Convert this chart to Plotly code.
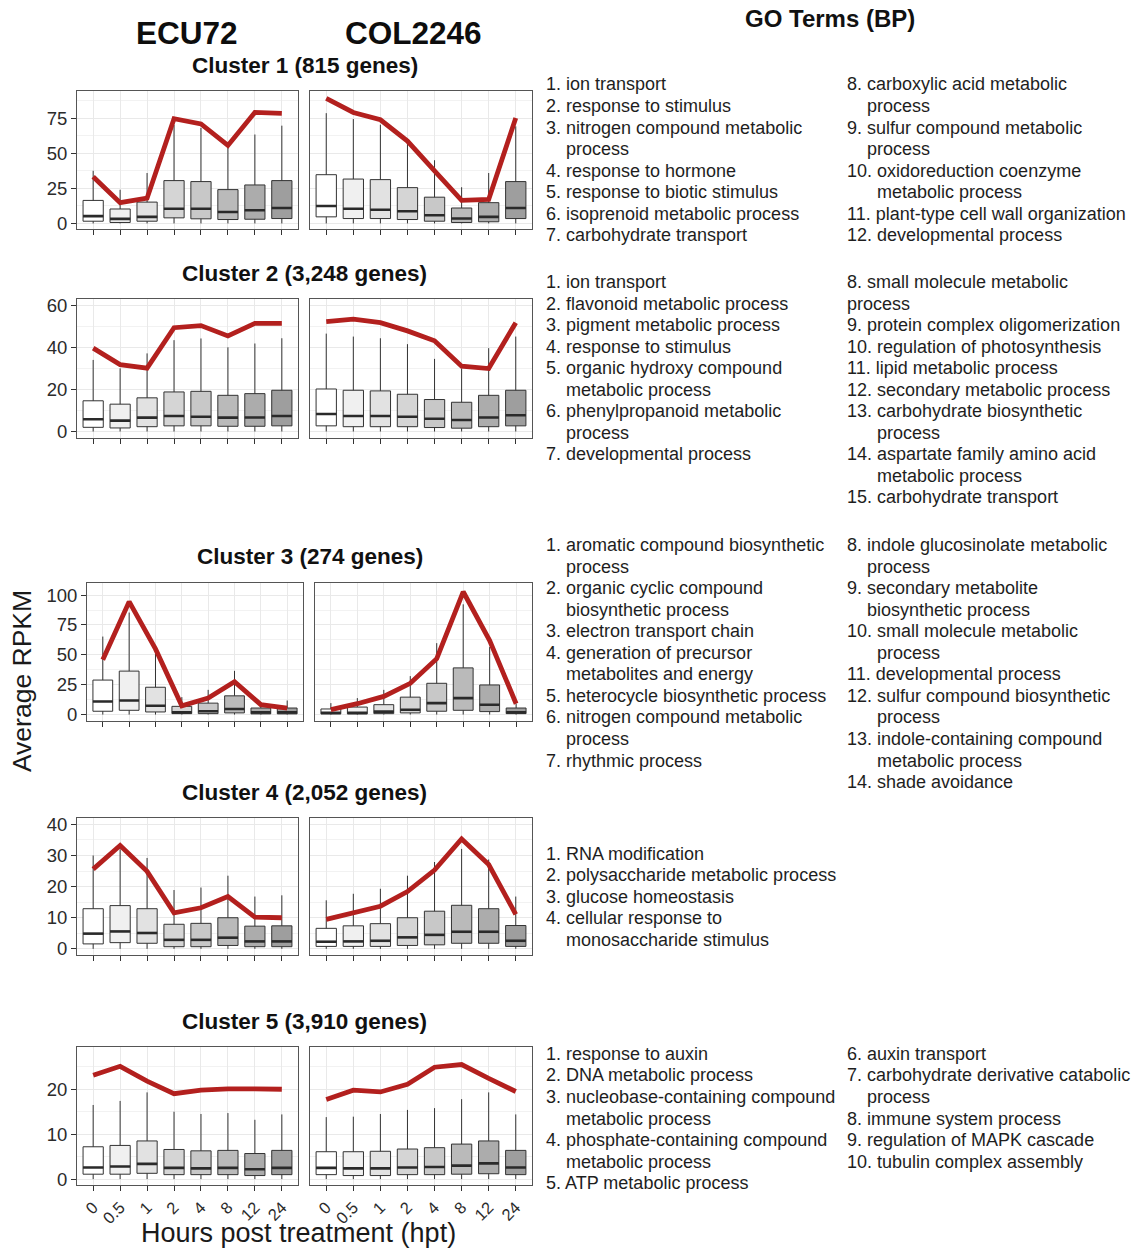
import plotly.graph_objects as go

W, H = 1137, 1251
FONT = "Liberation Sans, Arial, Helvetica, sans-serif"

# ---------------------------------------------------------------- data
HOURS = ["0", "0.5", "1", "2", "4", "8", "12", "24"]
GENOTYPES = ["ECU72", "COL2246"]
CLUSTER_TITLES = [
    "Cluster 1 (815 genes)",
    "Cluster 2 (3,248 genes)",
    "Cluster 3 (274 genes)",
    "Cluster 4 (2,052 genes)",
    "Cluster 5 (3,910 genes)",
]

# Cluster 1
C1_ECU_MEAN = [33.3, 14.8, 18.0, 74.5, 70.8, 55.5, 79.0, 78.3]
C1_ECU_Q1 = [1.6, 0.7, 1.6, 4.0, 3.3, 2.8, 3.0, 3.5]
C1_ECU_MED = [5.2, 3.3, 4.7, 10.5, 10.5, 8.2, 9.4, 11.0]
C1_ECU_Q3 = [16.4, 10.3, 15.2, 30.5, 29.8, 24.1, 27.4, 30.5]
C1_ECU_HI = [37.5, 24.0, 35.9, 70.0, 68.0, 56.0, 63.3, 69.6]
C1_COL_MEAN = [89.0, 79.0, 73.8, 58.6, 37.5, 16.4, 17.1, 75.0]
C1_COL_Q1 = [4.7, 3.5, 3.5, 2.8, 1.6, 0.7, 1.2, 3.5]
C1_COL_MED = [12.4, 10.5, 9.8, 8.7, 5.9, 3.5, 4.7, 11.0]
C1_COL_Q3 = [34.7, 31.6, 31.2, 25.5, 18.7, 11.0, 14.8, 29.8]
C1_COL_HI = [78.5, 74.3, 70.3, 60.2, 45.0, 25.8, 35.9, 69.1]

# Cluster 2
C2_ECU_MEAN = [39.6, 31.8, 30.1, 49.3, 50.3, 45.4, 51.4, 51.4]
C2_ECU_Q1 = [2.0, 1.7, 2.3, 2.7, 2.7, 2.5, 2.5, 2.7]
C2_ECU_MED = [5.8, 5.2, 6.6, 7.4, 7.0, 6.6, 6.7, 7.4]
C2_ECU_Q3 = [14.6, 13.0, 16.0, 18.8, 19.1, 17.2, 18.0, 19.6]
C2_ECU_HI = [34.0, 30.0, 37.1, 43.4, 44.2, 40.0, 41.8, 44.3]
C2_COL_MEAN = [52.2, 53.4, 51.7, 47.8, 43.1, 31.0, 29.9, 51.7]
C2_COL_Q1 = [2.7, 2.3, 2.3, 2.3, 1.9, 1.6, 2.3, 2.7]
C2_COL_MED = [8.3, 7.4, 7.4, 7.0, 6.1, 5.5, 6.7, 7.7]
C2_COL_Q3 = [20.2, 19.6, 19.3, 17.7, 15.2, 13.9, 17.2, 19.6]
C2_COL_HI = [46.5, 45.1, 44.3, 41.5, 34.5, 30.0, 39.6, 45.1]

# Cluster 3
C3_ECU_MEAN = [46.0, 94.5, 55.0, 7.4, 13.8, 27.5, 8.3, 5.5]
C3_ECU_Q1 = [2.8, 3.6, 2.2, 0.8, 0.8, 1.4, 0.6, 0.6]
C3_ECU_MED = [11.0, 11.8, 7.4, 1.9, 2.8, 4.7, 1.9, 1.9]
C3_ECU_Q3 = [28.9, 36.4, 22.9, 6.9, 9.6, 15.7, 5.5, 5.5]
C3_ECU_HI = [65.3, 85.4, 51.0, 14.6, 20.7, 36.6, 9.0, 11.8]
C3_COL_MEAN = [4.1, 9.1, 15.2, 26.2, 46.8, 102.8, 62.0, 9.1]
C3_COL_Q1 = [0.6, 0.6, 0.8, 1.4, 2.8, 3.6, 2.5, 0.8]
C3_COL_MED = [1.4, 1.4, 2.5, 4.1, 9.6, 13.8, 8.3, 1.9]
C3_COL_Q3 = [4.7, 6.3, 8.3, 14.6, 26.2, 39.1, 24.8, 5.5]
C3_COL_HI = [9.6, 13.8, 20.7, 32.2, 59.8, 92.3, 56.5, 9.0]

# Cluster 4
C4_ECU_MEAN = [25.6, 33.2, 24.9, 11.6, 13.2, 16.8, 10.2, 10.0]
C4_ECU_Q1 = [1.6, 2.0, 1.8, 0.7, 0.7, 1.1, 0.7, 0.7]
C4_ECU_MED = [4.9, 5.6, 5.1, 2.9, 2.9, 3.6, 2.4, 2.4]
C4_ECU_Q3 = [12.9, 13.9, 12.9, 7.9, 8.2, 10.0, 7.3, 7.4]
C4_ECU_HI = [30.0, 32.0, 29.2, 18.9, 19.7, 23.5, 16.8, 17.2]
C4_COL_MEAN = [9.5, 11.6, 13.7, 18.4, 25.3, 35.3, 27.1, 11.1]
C4_COL_Q1 = [0.8, 0.8, 0.8, 1.1, 1.3, 1.8, 1.8, 0.8]
C4_COL_MED = [2.3, 2.4, 2.6, 3.7, 4.5, 5.5, 5.5, 2.6]
C4_COL_Q3 = [6.6, 7.4, 8.1, 10.0, 12.1, 14.0, 12.9, 7.5]
C4_COL_HI = [15.6, 17.7, 19.3, 23.5, 27.9, 32.1, 28.7, 16.8]

# Cluster 5
C5_ECU_MEAN = [23.1, 25.1, 21.8, 19.0, 19.8, 20.1, 20.1, 20.0]
C5_ECU_Q1 = [1.1, 1.1, 1.3, 1.0, 1.0, 1.0, 0.8, 1.0]
C5_ECU_MED = [2.6, 2.8, 3.4, 2.5, 2.4, 2.5, 2.2, 2.5]
C5_ECU_Q3 = [7.2, 7.5, 8.5, 6.6, 6.3, 6.4, 5.7, 6.4]
C5_ECU_HI = [16.5, 17.4, 19.3, 15.0, 14.5, 14.7, 13.2, 14.4]
C5_COL_MEAN = [17.7, 19.8, 19.4, 21.1, 24.9, 25.5, 22.4, 19.5]
C5_COL_Q1 = [1.0, 0.8, 0.8, 1.0, 1.0, 1.1, 1.2, 1.0]
C5_COL_MED = [2.5, 2.4, 2.4, 2.6, 2.7, 3.0, 3.5, 2.6]
C5_COL_Q3 = [6.1, 6.1, 6.2, 6.7, 7.0, 7.8, 8.5, 6.4]
C5_COL_HI = [13.8, 13.9, 14.5, 15.4, 15.8, 17.8, 19.3, 14.4]

# GO term lists (first line of each item carries its number)
GO_C1_A = [["1. ion transport"], ["2. response to stimulus"],
           ["3. nitrogen compound metabolic", "process"],
           ["4. response to hormone"], ["5. response to biotic stimulus"],
           ["6. isoprenoid metabolic process"], ["7. carbohydrate transport"]]
GO_C1_B = [["8. carboxylic acid metabolic", "process"],
           ["9. sulfur compound metabolic", "process"],
           ["10. oxidoreduction coenzyme", "metabolic process"],
           ["11. plant-type cell wall organization"],
           ["12. developmental process"]]
GO_C2_A = [["1. ion transport"], ["2. flavonoid metabolic process"],
           ["3. pigment metabolic process"], ["4. response to stimulus"],
           ["5. organic hydroxy compound", "metabolic process"],
           ["6. phenylpropanoid metabolic", "process"],
           ["7. developmental process"]]
GO_C2_B = [["8. small molecule metabolic", "process"],
           ["9. protein complex oligomerization"],
           ["10. regulation of photosynthesis"],
           ["11. lipid metabolic process"],
           ["12. secondary metabolic process"],
           ["13. carbohydrate biosynthetic", "process"],
           ["14. aspartate family amino acid", "metabolic process"],
           ["15. carbohydrate transport"]]
GO_C3_A = [["1. aromatic compound biosynthetic", "process"],
           ["2. organic cyclic compound", "biosynthetic process"],
           ["3. electron transport chain"],
           ["4. generation of precursor", "metabolites and energy"],
           ["5. heterocycle biosynthetic process"],
           ["6. nitrogen compound metabolic", "process"],
           ["7. rhythmic process"]]
GO_C3_B = [["8. indole glucosinolate metabolic", "process"],
           ["9. secondary metabolite", "biosynthetic process"],
           ["10. small molecule metabolic", "process"],
           ["11. developmental process"],
           ["12. sulfur compound biosynthetic", "process"],
           ["13. indole-containing compound", "metabolic process"],
           ["14. shade avoidance"]]
GO_C4_A = [["1. RNA modification"], ["2. polysaccharide metabolic process"],
           ["3. glucose homeostasis"],
           ["4. cellular response to", "monosaccharide stimulus"]]
GO_C4_B = []
GO_C5_A = [["1. response to auxin"], ["2. DNA metabolic process"],
           ["3. nucleobase-containing compound", "metabolic process"],
           ["4. phosphate-containing compound", "metabolic process"],
           ["5. ATP metabolic process"]]
GO_C5_B = [["6. auxin transport"],
           ["7. carbohydrate derivative catabolic", "process"],
           ["8. immune system process"], ["9. regulation of MAPK cascade"],
           ["10. tubulin complex assembly"]]

PANEL_STATS = [
    [(C1_ECU_MEAN, C1_ECU_Q1, C1_ECU_MED, C1_ECU_Q3, C1_ECU_HI),
     (C1_COL_MEAN, C1_COL_Q1, C1_COL_MED, C1_COL_Q3, C1_COL_HI)],
    [(C2_ECU_MEAN, C2_ECU_Q1, C2_ECU_MED, C2_ECU_Q3, C2_ECU_HI),
     (C2_COL_MEAN, C2_COL_Q1, C2_COL_MED, C2_COL_Q3, C2_COL_HI)],
    [(C3_ECU_MEAN, C3_ECU_Q1, C3_ECU_MED, C3_ECU_Q3, C3_ECU_HI),
     (C3_COL_MEAN, C3_COL_Q1, C3_COL_MED, C3_COL_Q3, C3_COL_HI)],
    [(C4_ECU_MEAN, C4_ECU_Q1, C4_ECU_MED, C4_ECU_Q3, C4_ECU_HI),
     (C4_COL_MEAN, C4_COL_Q1, C4_COL_MED, C4_COL_Q3, C4_COL_HI)],
    [(C5_ECU_MEAN, C5_ECU_Q1, C5_ECU_MED, C5_ECU_Q3, C5_ECU_HI),
     (C5_COL_MEAN, C5_COL_Q1, C5_COL_MED, C5_COL_Q3, C5_COL_HI)],
]
GO_TERMS = [(GO_C1_A, GO_C1_B), (GO_C2_A, GO_C2_B), (GO_C3_A, GO_C3_B),
            (GO_C4_A, GO_C4_B), (GO_C5_A, GO_C5_B)]

# ---------------------------------------------------------------- layout
ROW_TOP = [88, 297, 583, 820, 1051]
ROW_BOTTOM = [227, 437, 722, 958, 1190]
COL_SPANS = [
    [(77, 298), (310, 532)],
    [(77, 298), (310, 532)],
    [(87, 303), (315, 532)],
    [(77, 298), (310, 532)],
    [(77, 298), (310, 532)],
]
Y_RANGES = [(-4.2, 94), (-3.0, 63), (-5.2, 110.3), (-2.0, 42), (-1.4, 29.3)]
Y_DTICK = [25, 20, 25, 10, 10]
GO_TOP = [81.0, 280, 545, 856.0, 1057.5]
LINE_H = 21.7
GO_SIZE = 18

BOX_FILLS = ["#ffffff", "#f0f0f0", "#e2e2e2", "#d5d5d5",
             "#c8c8c8", "#bababa", "#acacac", "#9e9e9e"]
RED = "#b3201e"
EDGE = "#333333"
GRID = "#e9e9e9"
GRID_MINOR = "#f2f2f2"
TEXT = "#1e1e1e"


def px(x):
    return x / W


def py(y):
    return 1 - y / H


fig = go.Figure()
layout = dict(
    width=W, height=H, autosize=False,
    margin=dict(l=0, r=0, t=0, b=0),
    paper_bgcolor="white", plot_bgcolor="white",
    showlegend=False, boxmode="overlay",
    font=dict(family=FONT, color=TEXT),
)
annotations = []

xs = list(range(len(HOURS)))
half = 0.375
k = 0
for r in range(5):
    for c in range(2):
        k += 1
        xa = "x" if k == 1 else f"x{k}"
        ya = "y" if k == 1 else f"y{k}"
        mean, q1, med, q3, hi = PANEL_STATS[r][c]
        x0, x1 = COL_SPANS[r][c]

        layout["xaxis" if k == 1 else f"xaxis{k}"] = dict(
            domain=[px(x0), px(x1)], anchor=ya, range=[-0.6, 7.6],
            tickmode="array", tickvals=xs, ticktext=HOURS,
            showticklabels=(r == 4), tickangle=-45,
            tickfont=dict(size=16.5, color="#2b2b2b", family=FONT),
            ticks="outside", ticklen=5, tickwidth=1.4, tickcolor=EDGE,
            showgrid=True, gridcolor=GRID, gridwidth=1.1,
            zeroline=False, showline=True, mirror=True,
            linecolor="#555555", linewidth=1, fixedrange=True,
        )
        layout["yaxis" if k == 1 else f"yaxis{k}"] = dict(
            domain=[py(ROW_BOTTOM[r]), py(ROW_TOP[r])], anchor=xa,
            range=list(Y_RANGES[r]), tickmode="linear", tick0=0,
            dtick=Y_DTICK[r], showticklabels=(c == 0),
            tickfont=dict(size=18.5, color="#2b2b2b", family=FONT),
            ticks="outside" if c == 0 else "", ticklen=5, tickwidth=1.4,
            tickcolor=EDGE,
            showgrid=True, gridcolor=GRID, gridwidth=1.1,
            minor=dict(tick0=0, dtick=Y_DTICK[r] / 2, showgrid=True,
                       gridcolor=GRID_MINOR, gridwidth=0.7, ticks=""),
            zeroline=False, showline=True, mirror=True,
            linecolor="#555555", linewidth=1, fixedrange=True,
        )

        # boxes, one trace per time point so each gets its own shade
        for i in xs:
            fig.add_trace(go.Box(
                x=[i], q1=[q1[i]], median=[med[i]], q3=[q3[i]],
                lowerfence=[0.0], upperfence=[hi[i]],
                width=0.75, whiskerwidth=0, boxpoints=False,
                fillcolor=BOX_FILLS[i], line=dict(color=EDGE, width=1),
                xaxis=xa, yaxis=ya, hoverinfo="skip",
            ))
        # heavier median bars
        mx, my = [], []
        for i in xs:
            mx += [i - half, i + half, None]
            my += [med[i], med[i], None]
        fig.add_trace(go.Scatter(
            x=mx, y=my, mode="lines", line=dict(color="#2a2a2a", width=2.6),
            xaxis=xa, yaxis=ya, hoverinfo="skip",
        ))
        # cluster average profile
        fig.add_trace(go.Scatter(
            x=xs, y=mean, mode="lines",
            line=dict(color=RED, width=4.8),
            xaxis=xa, yaxis=ya, hoverinfo="skip",
        ))

    # cluster title above the panel pair
    left = COL_SPANS[r][0][0]
    right = COL_SPANS[r][1][1]
    annotations.append(dict(
        text=f"<b>{CLUSTER_TITLES[r]}</b>", x=px((left + right) / 2),
        y=py(ROW_TOP[r] - 26), xref="paper", yref="paper",
        xanchor="center", yanchor="middle", showarrow=False,
        font=dict(size=22.5, family=FONT, color="#111111"),
    ))

    # GO term columns
    for col, items in enumerate(GO_TERMS[r]):
        line = 0
        for item in items:
            number = item[0].split(" ")[0]
            xn = 544.0 if col == 0 else 845.0
            # continuation lines line up with the text after the number
            xi = xn + (20.0 if len(number) == 2 else 30.0)
            if r == 1 and number == "8.":
                xi = xn
            for j, txt in enumerate(item):
                annotations.append(dict(
                    text=txt, x=px(xn if j == 0 else xi),
                    y=py(GO_TOP[r] + line * LINE_H),
                    xref="paper", yref="paper", xanchor="left",
                    yanchor="middle", showarrow=False,
                    font=dict(size=GO_SIZE, family=FONT, color=TEXT),
                ))
                line += 1

# column headers and figure labels
annotations += [
    dict(text=f"<b>{GENOTYPES[0]}</b>", x=px(187), y=py(29),
         font=dict(size=31.5, family=FONT, color="#0d0d0d")),
    dict(text=f"<b>{GENOTYPES[1]}</b>", x=px(413), y=py(29),
         font=dict(size=31.5, family=FONT, color="#0d0d0d")),
    dict(text="<b>GO Terms (BP)</b>", x=px(830), y=py(15),
         font=dict(size=24, family=FONT, color="#111111")),
    dict(text="Average RPKM", x=px(22), y=py(682), textangle=-90,
         font=dict(size=26.5, family=FONT, color="#1a1a1a")),
    dict(text="Hours post treatment (hpt)", x=px(298), y=py(1238),
         font=dict(size=27, family=FONT, color="#1a1a1a")),
]
for a in annotations[-5:]:
    a.update(xref="paper", yref="paper", xanchor="center",
             yanchor="middle", showarrow=False)

layout["annotations"] = annotations
fig.update_layout(**layout)
fig.write_html("out.html")
